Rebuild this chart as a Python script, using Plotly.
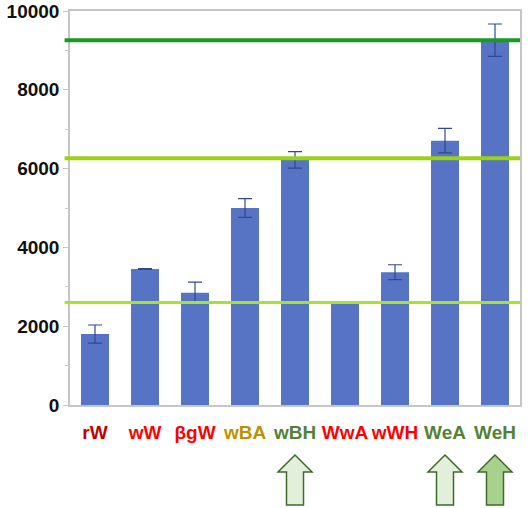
import plotly.graph_objects as go

# Sample groups and measured means with their error margins
categories = ["rW", "wW", "βgW", "wBA", "wBH", "WwA", "wWH", "WeA", "WeH"]
label_colors = ["#c00000", "#ff0000", "#ff0000", "#bf9000", "#548235",
                "#ff0000", "#ff0000", "#548235", "#548235"]
means = [1800, 3450, 2850, 5000, 6220, 2600, 3370, 6710, 9260]
errors = [230, 10, 270, 240, 210, 10, 190, 310, 410]

# Value axis ticks
y_ticks = [0, 2000, 4000, 6000, 8000, 10000]
y_minor = [1000, 3000, 5000, 7000, 9000]

# Horizontal reference levels (value, colour)
ref_levels = [9260, 6260, 2600]
ref_colors = ["#1a9a1f", "#99d40f", "#a6e22e"]
ref_widths = [4, 4, 3]

# Groups marked with an up arrow and the arrow fill colour
arrow_groups = ["wBH", "WeA", "WeH"]
arrow_fills = ["#e2efda", "#e2efda", "#a9d18e"]

x_idx = list(range(len(categories)))
ticktext = [f'<span style="color:{c}">{t}</span>' for t, c in zip(categories, label_colors)]

fig = go.Figure()
fig.add_trace(go.Bar(
    x=x_idx, y=means, width=0.56,
    marker=dict(color="#5673c4", line=dict(width=0)),
    error_y=dict(type="data", array=errors, visible=True,
                 color="#2f4a8c", thickness=1.2, width=7),
))

shapes = []
for v, c, w in zip(ref_levels, ref_colors, ref_widths):
    shapes.append(dict(type="line", xref="paper", yref="y", x0=-0.012, x1=1.0,
                       y0=v, y1=v, line=dict(color=c, width=w), layer="above"))

# Block arrows under selected groups (y in paper units below the axis)
hw, sw = 0.34, 0.17
y_tip, y_neck, y_base = -0.127, -0.170, -0.254
for g, fc in zip(arrow_groups, arrow_fills):
    xc = categories.index(g)
    path = (f"M {xc} {y_tip} L {xc + hw} {y_neck} L {xc + sw} {y_neck} "
            f"L {xc + sw} {y_base} L {xc - sw} {y_base} L {xc - sw} {y_neck} "
            f"L {xc - hw} {y_neck} Z")
    shapes.append(dict(type="path", xref="x", yref="paper", path=path,
                       fillcolor=fc, line=dict(color="#3f6b2a", width=1.5)))

fig.update_layout(
    width=528, height=508,
    margin=dict(l=70, r=8, t=11, b=103, autoexpand=False),
    plot_bgcolor="white", paper_bgcolor="white",
    showlegend=False, bargap=0.44,
    shapes=shapes,
    font=dict(family="Liberation Sans", color="#111111"),
    xaxis=dict(
        range=[-0.5, 8.5], tickmode="array", tickvals=x_idx, ticktext=ticktext,
        showline=True, linecolor="#c6c6c6", linewidth=1.5, mirror=True,
        ticks="", showgrid=False, zeroline=False, automargin=False,
        tickfont=dict(size=19, family="Liberation Sans", weight="bold"),
        ticklabelstandoff=9,
    ),
    yaxis=dict(
        range=[0, 10000], tickmode="array", tickvals=y_ticks,
        ticktext=[str(v) for v in y_ticks],
        showline=True, linecolor="#c6c6c6", linewidth=1.5, mirror=True,
        ticks="outside", ticklen=5, tickcolor="#c6c6c6", tickwidth=1,
        minor=dict(tickvals=y_minor, ticks="outside",
                   ticklen=3, tickcolor="#c6c6c6"),
        showgrid=False, zeroline=False, automargin=False,
        tickfont=dict(size=19, family="Liberation Sans", weight="bold", color="#111111"),
    ),
)

fig.write_html("out.html")
